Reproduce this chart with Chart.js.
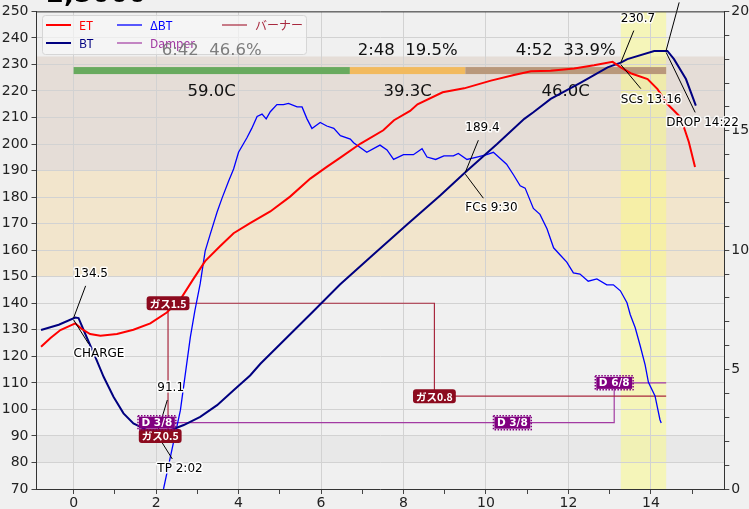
<!DOCTYPE html>
<html>
<head>
<meta charset="utf-8">
<script src="https://cdn.jsdelivr.net/npm/chart.js@4.4.1/dist/chart.umd.min.js"></script>
<style>
body{margin:0;background:#f0f0f0;}
#wrap{width:749px;height:509px;}
</style>
</head>
<body>
<div id="wrap"><canvas id="roast" width="749" height="509"></canvas></div>
<script>
// ET (environment temperature), minutes / C
const etTime = [-0.79,-0.56,-0.32,0.04,0.2,0.4,0.65,1.05,1.45,1.86,2.26,2.59,2.91,3.19,3.55,3.88,4.28,4.77,5.25,5.74,6.14,6.46,6.95,7.51,7.77,8.16,8.34,8.95,9.47,10.12,10.68,11.09,11.57,12.14,12.62,13.07,13.27,13.51,13.92,14.16,14.4,14.72,14.92,15.07]
const etTemp = [123.6,126.9,129.9,132.4,130.3,128.4,127.8,128.4,130.0,132.4,136.5,141.5,149.3,155.9,161.5,166.4,170.2,174.6,180.2,187.0,191.4,194.8,200.1,205.2,209.0,212.5,215.0,219.5,221.0,223.9,226.0,227.4,227.6,228.5,229.7,231.0,228.9,226.7,224.5,220.7,215.1,210.1,200.8,191.4]
// BT (bean temperature)
const btTime = [-0.79,-0.36,0.04,0.12,0.32,0.53,0.73,0.97,1.21,1.45,1.78,2.02,2.26,2.67,3.07,3.48,3.88,4.28,4.53,5.82,6.46,7.27,8.08,8.89,9.5,10.27,10.93,11.15,11.57,12.3,12.95,13.27,13.43,14.08,14.4,14.56,14.85,15.09]
const btTemp = [129.9,131.9,134.6,134.4,127.1,119.6,112.2,104.7,98.5,94.7,92.2,91.1,91.6,94.1,97.2,101.6,107.2,112.8,117.2,137.1,147.1,158.4,169.6,180.6,189.4,200.0,209.5,212.0,217.0,223.2,228.9,230.7,232.0,235.1,235.1,232.0,224.5,214.5]
// ΔBT (C/min, right axis)
const rorTime = [2.18,2.59,2.83,2.94,3.07,3.19,3.31,3.48,3.6,3.76,3.88,4.0,4.2,4.32,4.45,4.57,4.67,4.77,4.93,5.09,5.21,5.42,5.54,5.66,5.78,5.98,6.14,6.31,6.47,6.71,6.79,7.11,7.43,7.6,7.76,8.0,8.24,8.45,8.57,8.78,8.98,9.21,9.33,9.54,9.78,10.02,10.18,10.34,10.5,10.67,10.83,10.95,11.15,11.31,11.48,11.64,11.8,11.96,12.12,12.28,12.48,12.69,12.93,13.09,13.26,13.42,13.5,13.62,13.74,13.86,13.94,14.1,14.22,14.25]
const rorValue = [0,3.3,6.35,7.46,8.6,9.96,10.65,11.6,12.18,12.9,13.4,14.1,14.7,15.1,15.6,15.7,15.5,15.8,16.1,16.1,16.15,16.0,16.0,15.5,15.1,15.35,15.2,15.1,14.8,14.65,14.5,14.1,14.4,14.2,13.8,14.0,14.0,14.25,13.9,13.8,13.95,13.95,14.05,13.8,13.9,14.0,14.1,13.85,13.6,13.15,12.7,12.6,11.75,11.5,10.9,10.1,9.8,9.5,9.05,9.0,8.7,8.8,8.55,8.55,8.3,7.8,7.3,6.75,6.0,5.2,4.47,3.9,2.9,2.76]
// burner (ガス) and damper events
const burnerTime = [2.1,2.29,8.75]
const burnerValue = [0.5,1.5,0.8]
const damperTime = [2.02,10.64,13.11]
const damperValue = [3,3,6]
// roast events
const eventName = ['CHARGE','TP','FCs','SCs','DROP']
const eventTime = [0,2.03,9.5,13.27,14.37]
const eventTemp = [134.5,91.1,189.4,230.7,235.3]
const eventClock = ['','2:02','9:30','13:16','14:22']
// phases
const phaseStart = [0,6.7,9.5]
const phaseEnd = [6.7,9.5,14.37]
const phaseClock = ['6:42','2:48','4:52']
const phasePct = [46.6,19.5,33.9]
const phaseRise = [59.0,39.3,46.0]
// background temperature bands
const bandLow = [80,150,190]
const bandHigh = [90,190,233]
// tick labels
const leftTicks = [70,80,90,100,110,120,130,140,150,160,170,180,190,200,210,220,230,240,250]
const timeTicks = [0,1,2,3,4,5,6,7,8,9,10,11,12,13,14,15]
const rorTicks = [0,1,2,3,4,5,6,7,8,9,10,11,12,13,14,15,16,17,18,19,20]

const FONT = "'DejaVu Sans', sans-serif"
const JP = "'Noto Sans CJK JP', 'DejaVu Sans', sans-serif"
const bandColors = ['#e8e8e8','#f2e5cc','#e5ddd7']
const phaseColors = ['#68aa5e','#f2ba5e','#b9987b']
const phaseTextColors = ['#7d7d7d','#111','#111']
// label offsets (px) per event: value text dy, value line start, time text dy, time line start
const annot = [
  {vy:-44, vlx:12, vly:-32, ty:36, tlx:15, tly:26},
  {vy:-45, vlx:10, vly:-33, ty:36, tlx:15, tly:26},
  {vy:-44, vlx:13, vly:-32, ty:36, tlx:18, tly:26},
  {vy:-44, vlx:13, vly:-32, ty:37, tlx:20, tly:26},
  {vy:-60, vlx:13, vly:-48, ty:72, tlx:29, tly:62}
]
const legendPos = [[46,25],[46,43],[117,25],[222,25],[117,43]]

const pts = (xs, ys) => xs.map((t, i) => ({x: t, y: ys[i]}))
const dropTime = eventTime[4]

function haloText(ctx, txt, x, y) {
  ctx.lineJoin = 'round'
  ctx.lineWidth = 3
  ctx.strokeStyle = 'rgba(255,255,255,0.9)'
  ctx.strokeText(txt, x, y)
  ctx.fillStyle = '#000'
  ctx.fillText(txt, x, y)
}

// bands + SCs..DROP highlight, under the grid
const bgPlugin = {
  id: 'bg',
  beforeDraw(chart) {
    const {ctx, chartArea: a, scales} = chart
    ctx.save()
    ctx.fillStyle = '#f0f0f0'
    ctx.fillRect(0, 0, chart.width, chart.height)
    bandLow.forEach((lo, i) => {
      const top = scales.y.getPixelForValue(bandHigh[i])
      const bot = scales.y.getPixelForValue(lo)
      ctx.fillStyle = bandColors[i]
      ctx.fillRect(a.left, top, a.right - a.left, bot - top)
    })
    const x1 = scales.x.getPixelForValue(eventTime[3])
    const x2 = scales.x.getPixelForValue(eventTime[4])
    ctx.fillStyle = 'rgba(250,250,130,0.5)'
    ctx.fillRect(x1, a.top, x2 - x1, a.bottom - a.top)
    ctx.restore()
  }
}

// legend box (under the phase texts, like the original)
const legendPlugin = {
  id: 'legendBox',
  beforeDatasetsDraw(chart) {
    const {ctx} = chart
    ctx.save()
    ctx.fillStyle = 'rgba(247,247,247,0.7)'
    ctx.strokeStyle = '#d6d6d6'
    ctx.lineWidth = 1
    ctx.beginPath()
    ctx.roundRect(42.5, 15.5, 264, 39, 3)
    ctx.fill(); ctx.stroke()
    ctx.font = '12px ' + JP
    ctx.textBaseline = 'middle'
    chart.data.datasets.forEach((ds, i) => {
      const [lx, ly] = legendPos[i]
      ctx.strokeStyle = ds.borderColor
      ctx.lineWidth = ds.borderWidth
      ctx.beginPath()
      ctx.moveTo(lx, ly); ctx.lineTo(lx + 25, ly)
      ctx.stroke()
      ctx.fillStyle = ds.borderColor
      ctx.fillText(ds.label, lx + 33, ly)
    })
    ctx.restore()
  }
}

// phase bar with times and rises
const phasePlugin = {
  id: 'phases',
  beforeDatasetsDraw(chart) {
    const {ctx, scales} = chart
    const yc = scales.y.getPixelForValue(227.7)
    ctx.save()
    phaseStart.forEach((s, i) => {
      const x1 = scales.x.getPixelForValue(s), x2 = scales.x.getPixelForValue(phaseEnd[i])
      ctx.fillStyle = phaseColors[i]
      ctx.fillRect(x1, yc - 3.5, x2 - x1, 7)
      const cx = (x1 + x2) / 2
      ctx.font = '16.5px ' + FONT
      ctx.textAlign = 'center'
      ctx.textBaseline = 'middle'
      ctx.fillStyle = phaseTextColors[i]
      ctx.fillText(phaseClock[i] + '  ' + phasePct[i].toFixed(1) + '%', cx, yc - 20)
      ctx.fillStyle = '#111'
      ctx.fillText(phaseRise[i].toFixed(1) + 'C', cx, yc + 21)
    })
    ctx.restore()
  }
}

// event annotations and burner / damper tags
const annotPlugin = {
  id: 'annot',
  afterDatasetsDraw(chart) {
    const {ctx, scales} = chart
    ctx.save()
    ctx.font = '12px ' + FONT
    ctx.textAlign = 'left'
    ctx.textBaseline = 'middle'
    eventTime.forEach((t, i) => {
      const ax = scales.x.getPixelForValue(t), ay = scales.y.getPixelForValue(eventTemp[i])
      const o = annot[i]
      ctx.strokeStyle = '#000'
      ctx.lineWidth = 1
      ctx.beginPath()
      ctx.moveTo(ax + o.vlx, ay + o.vly); ctx.lineTo(ax, ay)
      ctx.moveTo(ax + o.tlx, ay + o.tly); ctx.lineTo(ax, ay + 2)
      ctx.stroke()
      haloText(ctx, eventTemp[i].toFixed(1), ax, ay + o.vy)
      haloText(ctx, (eventName[i] + ' ' + eventClock[i]).trim(), ax, ay + o.ty)
    })
    // tags
    ctx.textAlign = 'center'
    ctx.font = 'bold 10.5px ' + JP
    burnerTime.forEach((t, i) => {
      const px = scales.x.getPixelForValue(t), py = scales.burner.getPixelForValue(burnerValue[i])
      const txt = 'ガス' + burnerValue[i].toFixed(1)
      const w = ctx.measureText(txt).width + 6
      ctx.fillStyle = '#8c0a1e'
      ctx.beginPath()
      ctx.roundRect(px - w / 2, py - 7, w, 14, 3)
      ctx.fill()
      ctx.fillStyle = '#fff'
      ctx.fillText(txt, px, py + 0.5)
    })
    ctx.font = 'bold 10.5px ' + FONT
    damperTime.forEach((t, i) => {
      const px = scales.x.getPixelForValue(t), py = scales.damper.getPixelForValue(damperValue[i])
      const txt = 'D ' + damperValue[i] + '/8'
      const w = ctx.measureText(txt).width + 5
      ctx.fillStyle = '#800080'
      ctx.fillRect(px - w / 2, py - 6, w, 12)
      ctx.setLineDash([1.5, 1.5])
      ctx.strokeStyle = '#800080'
      ctx.lineWidth = 1.5
      ctx.strokeRect(px - w / 2 - 1, py - 7, w + 2, 14)
      ctx.setLineDash([])
      ctx.fillStyle = '#fff'
      ctx.fillText(txt, px, py + 0.5)
    })
    ctx.restore()
  }
}

// top frame line and the cut-off title
const framePlugin = {
  id: 'frame',
  afterDraw(chart) {
    const {ctx, chartArea: a} = chart
    ctx.save()
    ctx.strokeStyle = '#333'
    ctx.lineWidth = 1
    ctx.beginPath()
    ctx.moveTo(a.left, a.top + 0.5); ctx.lineTo(a.right, a.top + 0.5)
    ctx.stroke()
    ctx.fillStyle = '#000'
    ctx.font = 'bold 26px ' + FONT
    ctx.textBaseline = 'alphabetic'
    ctx.fillText('2,5000', 46, 2)
    ctx.restore()
  }
}

const tickFont = {family: FONT, size: 14}
const line = {pointRadius: 0, tension: 0, fill: false}

new Chart(document.getElementById('roast'), {
  type: 'line',
  data: {
    datasets: [
      {...line, label: 'ET', data: pts(etTime, etTemp), borderColor: '#ff0000', borderWidth: 2, yAxisID: 'y'},
      {...line, label: 'BT', data: pts(btTime, btTemp), borderColor: '#000080', borderWidth: 2, yAxisID: 'y'},
      {...line, label: 'ΔBT', data: pts(rorTime, rorValue), borderColor: '#0000ff', borderWidth: 1.3, yAxisID: 'ror'},
      {...line, label: 'バーナー', data: pts(burnerTime.concat([dropTime]), burnerValue.concat([burnerValue[burnerValue.length - 1]])), borderColor: '#a8283e', borderWidth: 1.2, stepped: true, yAxisID: 'burner'},
      {...line, label: 'Damper', data: pts(damperTime.concat([dropTime]), damperValue.concat([damperValue[damperValue.length - 1]])), borderColor: '#a23aa2', borderWidth: 1.2, stepped: true, yAxisID: 'damper'}
    ]
  },
  options: {
    responsive: false,
    animation: false,
    layout: {padding: {top: 9, left: 0, right: 0, bottom: 0}},
    plugins: {legend: {display: false}, tooltip: {enabled: false}},
    scales: {
      x: {
        type: 'linear', min: -0.9, max: 15.78,
        afterBuildTicks: s => { s.ticks = timeTicks.map(v => ({value: v})) },
        ticks: {font: tickFont, color: '#222', padding: 1, maxRotation: 0, autoSkip: false,
          callback: v => (v % 2 === 0 ? String(v) : '')},
        grid: {color: c => (c.tick && c.tick.value % 2 === 0 ? '#d2d2d2' : 'rgba(0,0,0,0)'), tickColor: '#444', tickLength: 5},
        border: {color: '#333'},
        afterFit: s => { s.height = 20 }
      },
      y: {
        position: 'left', min: 70, max: 250,
        afterBuildTicks: s => { s.ticks = leftTicks.map(v => ({value: v})) },
        ticks: {font: tickFont, color: '#222', padding: 3},
        grid: {color: '#d2d2d2', tickColor: '#444', tickLength: 5},
        border: {color: '#333'},
        afterFit: s => { s.width = 36.5 }
      },
      ror: {
        position: 'right', min: 0, max: 20,
        afterBuildTicks: s => { s.ticks = rorTicks.map(v => ({value: v})) },
        ticks: {font: tickFont, color: '#222', padding: 2, autoSkip: false,
          callback: v => (v % 5 === 0 ? String(v) : '')},
        grid: {drawOnChartArea: false, tickColor: '#444', tickLength: 5},
        border: {color: '#333'},
        afterFit: s => { s.width = 24.7 }
      },
      burner: {display: false, min: 0.1, max: 3.7},
      damper: {display: false, min: -2, max: 34}
    }
  },
  plugins: [bgPlugin, legendPlugin, phasePlugin, annotPlugin, framePlugin]
})
</script>
</body>
</html>
